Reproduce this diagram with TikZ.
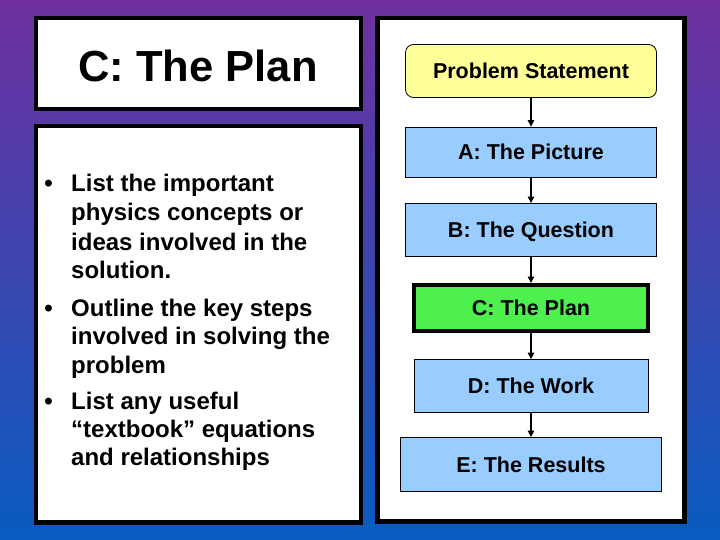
\documentclass[tikz,border=0pt]{standalone}
\usepackage{fontspec}
\setmainfont{Liberation Sans}
\usetikzlibrary{arrows.meta}
\definecolor{bgtop}{RGB}{112,48,160}
\definecolor{bgmid}{RGB}{84,62,176}
\definecolor{bgbot}{RGB}{8,92,192}
\definecolor{boxblue}{RGB}{153,204,255}
\definecolor{boxyellow}{RGB}{255,255,153}
\definecolor{boxgreen}{RGB}{77,240,77}
\tikzset{
  panel/.style={draw=black,fill=white,line width=4.5pt},
  flowbox/.style={draw=black,line width=0.8pt,fill=boxblue,minimum width=#1,inner sep=0pt,
    text height=15pt,text depth=0pt,font=\fontsize{21.5}{25}\selectfont\bfseries},
  flowbox/.default=251pt,
  flowarrow/.style={-{Triangle[length=6.5pt,width=6.5pt]},line width=1.2pt},
  bullettext/.style={anchor=base west,inner sep=0pt,font=\fontsize{24}{29}\selectfont\bfseries},
}
\begin{document}
\begin{tikzpicture}[x=1pt,y=-1pt]
\useasboundingbox (0,0) rectangle (720,540);
\shade[top color=bgtop,middle color=bgmid,bottom color=bgbot] (0,0) rectangle (720,540);

% the three white panels
\draw[panel] (36,18) rectangle (361,109);
\draw[panel] (36,126) rectangle (361,522.5);
\draw[panel] (377.5,18) rectangle (684.5,521.5);

\node[font=\fontsize{43.5}{50}\selectfont\bfseries,anchor=base] (title) at (198,82) {C: The Plan};

% bullet list
\foreach \y [count=\i] in {192,316,409.5}
    \node[bullettext,anchor=base] (dot\i) at (48.5,\y) {•};
\foreach \y/\t [count=\i] in {192/List the important,221/physics concepts or,250/ideas involved in the,278.5/solution.,316/Outline the key steps,344.5/involved in solving the,373/problem,409.5/List any useful,437.5/“textbook” equations,465/and relationships}
    \node[bullettext] (line\i) at (71,\y) {\t};

% flow chart
\node[flowbox,fill=boxyellow,rounded corners=8pt,minimum height=53pt] (ps) at (531,71) {Problem Statement};
\node[flowbox,minimum height=50pt] (pic) at (531,152) {A: The Picture};
\node[flowbox,minimum height=53pt] (que) at (531,230) {B: The Question};
\node[flowbox=234pt,fill=boxgreen,line width=4pt,minimum height=46pt] (plan) at (531,308) {C: The Plan};
\node[flowbox=234pt,minimum height=53pt] (work) at (531,386) {D: The Work};
\node[flowbox=261pt,minimum height=54pt] (res) at (531,464.5) {E: The Results};
\foreach \a/\b in {ps/pic,pic/que,que/plan,plan/work,work/res}
    \draw[flowarrow] (\a) -- (\b);
\end{tikzpicture}
\end{document}
